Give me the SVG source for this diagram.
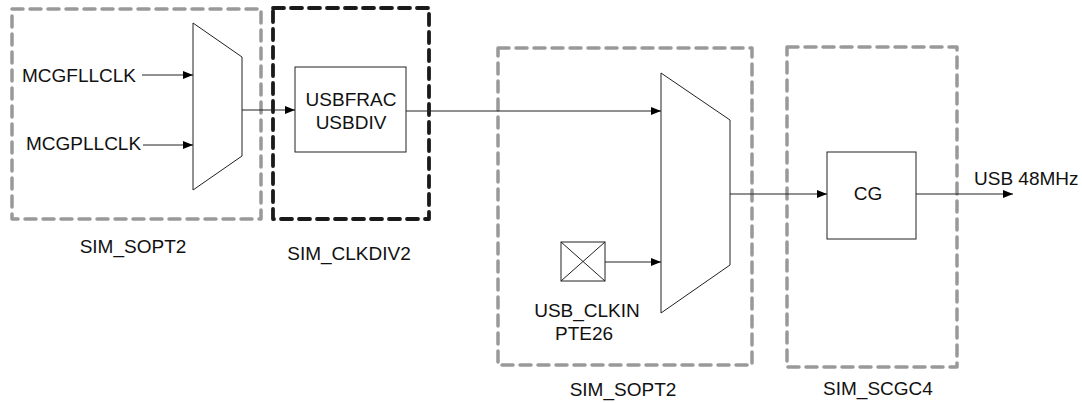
<svg xmlns="http://www.w3.org/2000/svg" width="1082" height="403" viewBox="0 0 1082 403">
<defs>
<marker id="ah" viewBox="0 0 10 8" refX="10" refY="4" markerWidth="10" markerHeight="8" markerUnits="userSpaceOnUse" orient="auto">
<path d="M0,0 L10,4 L0,8 Z" fill="#000"/>
</marker>
</defs>
<style>
.reg{fill:none;stroke:#999;stroke-width:3.5;stroke-dasharray:11 7;stroke-linejoin:round;stroke-linecap:round}
.regd{fill:none;stroke:#1a1a1a;stroke-width:3.8;stroke-dasharray:11 7;stroke-linejoin:round;stroke-linecap:round}
.blk{fill:#fff;stroke:#222;stroke-width:1}
.w{stroke:#222;stroke-width:1;fill:none}
text{font-family:"Liberation Sans",Arial,sans-serif;font-size:19px;fill:#111}
.c{text-anchor:middle}
</style>
<rect width="1082" height="403" fill="#fff"/>
<g id="region-sopt2-left">
<rect class="reg" x="12" y="9" width="249" height="210"/>
<text class="c" x="133" y="253">SIM_SOPT2</text>
</g>
<g id="region-clkdiv2">
<rect class="regd" x="273" y="8" width="156" height="211"/>
<text class="c" x="349" y="260">SIM_CLKDIV2</text>
</g>
<g id="region-sopt2-mid">
<rect class="reg" x="498" y="48" width="254" height="317"/>
<text class="c" x="623" y="396">SIM_SOPT2</text>
</g>
<g id="region-scgc4">
<rect class="reg" x="787" y="47" width="170" height="320"/>
<text class="c" x="878" y="395">SIM_SCGC4</text>
</g>
<g id="mux1">
<path class="blk" d="M193,23 L242,57 L242,156 L193,190 Z"/>
</g>
<g id="usbdiv">
<rect class="blk" x="295" y="67" width="111" height="85"/>
<text class="c" x="351" y="106">USBFRAC</text>
<text class="c" x="351" y="129">USBDIV</text>
</g>
<g id="mux2">
<path class="blk" d="M661,73 L730,120 L730,265 L661,313 Z"/>
</g>
<g id="usb-clkin">
<rect class="blk" x="561" y="242" width="44" height="39"/>
<path class="w" d="M561,242 L605,281 M605,242 L561,281"/>
<text class="c" x="587" y="317">USB_CLKIN</text>
<text class="c" x="584" y="340">PTE26</text>
</g>
<g id="cg">
<rect class="blk" x="827" y="152" width="89" height="87"/>
<text class="c" x="868" y="200">CG</text>
</g>
<g id="inputs">
<text x="22" y="82">MCGFLLCLK</text>
<text x="26" y="150">MCGPLLCLK</text>
<text x="974" y="185">USB 48MHz</text>
</g>
<g id="connectors">
<line class="w" x1="142" y1="75" x2="193" y2="75" marker-end="url(#ah)"/>
<line class="w" x1="143" y1="145" x2="193" y2="145" marker-end="url(#ah)"/>
<line class="w" x1="242" y1="110" x2="295" y2="110" marker-end="url(#ah)"/>
<line class="w" x1="406" y1="111" x2="661" y2="111" marker-end="url(#ah)"/>
<line class="w" x1="605" y1="262" x2="661" y2="262" marker-end="url(#ah)"/>
<line class="w" x1="730" y1="194" x2="827" y2="194" marker-end="url(#ah)"/>
<line class="w" x1="916" y1="194" x2="1013" y2="194" marker-end="url(#ah)"/>
</g>
</svg>
